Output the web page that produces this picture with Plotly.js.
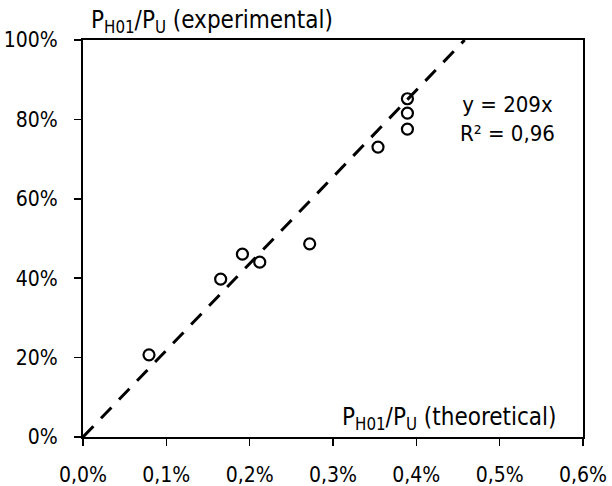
<!DOCTYPE html>
<html>
<head>
<meta charset="utf-8">
<script src="https://cdn.plot.ly/plotly-3.0.1.min.js"></script>
<style>
  html, body { margin: 0; padding: 0; background: #ffffff; }
  #chart { width: 612px; height: 486px; }
</style>
</head>
<body>
<div id="chart"></div>
<script>
// Measured points: theoretical vs experimental P_H01/P_U
const xTheoretical = [0.000792, 0.001652, 0.001913, 0.002121, 0.002720, 0.003540, 0.003893, 0.003893, 0.003893];
const yExperimental = [0.207, 0.3975, 0.4605, 0.4404, 0.4865, 0.7303, 0.7757, 0.816, 0.852];

// Trend line (through origin) as drawn
const trendX = [0, 0.00458];
const trendY = [0, 1.0];

// Tick values
const xTicks = [0, 0.001, 0.002, 0.003, 0.004, 0.005, 0.006];
const yTicks = [0, 0.2, 0.4, 0.6, 0.8, 1.0];

const equationText = 'y = 209x<br>R² = 0,96';
const yTitleText = 'P<sub>H01</sub>/P<sub>U</sub> (experimental)';
const xTitleText = 'P<sub>H01</sub>/P<sub>U</sub> (theoretical)';

const FONT = 'Liberation Sans Narrow, DejaVu Sans Condensed, Arial, sans-serif';
const FS = 21;
const TS = 24;

const traces = [
  {
    x: trendX, y: trendY, type: 'scatter', mode: 'lines',
    line: { color: '#000000', width: 3, dash: '15px,11px' },
    hoverinfo: 'skip', showlegend: false
  },
  {
    x: xTheoretical, y: yExperimental, type: 'scatter', mode: 'markers',
    marker: { symbol: 'circle-open', size: 11, color: '#000000', line: { width: 2.2, color: '#000000' } },
    showlegend: false
  }
];

const layout = {
  width: 612, height: 486,
  margin: { l: 83, r: 29, t: 40, b: 49 },
  paper_bgcolor: '#ffffff', plot_bgcolor: '#ffffff',
  separators: ', ',
  font: { family: FONT, size: FS, color: '#000000' },
  showlegend: false,
  xaxis: {
    range: [0, 0.006], tickvals: xTicks, tickformat: '.1%',
    ticks: 'outside', ticklen: 7, tickwidth: 1.5, tickcolor: '#000000',
    showline: true, linecolor: '#000000', linewidth: 2, mirror: true,
    showgrid: false, zeroline: false, ticklabelstandoff: 11,
    tickfont: { family: FONT, size: FS, color: '#000000' }
  },
  yaxis: {
    range: [0, 1], tickvals: yTicks, tickformat: '.0%',
    ticks: 'outside', ticklen: 7, tickwidth: 1.5, tickcolor: '#000000',
    showline: true, linecolor: '#000000', linewidth: 2, mirror: true,
    showgrid: false, zeroline: false, ticklabelstandoff: 12,
    tickfont: { family: FONT, size: FS, color: '#000000' }
  },
  annotations: [
    {
      text: yTitleText, xref: 'paper', yref: 'paper', x: 0, y: 1,
      xanchor: 'left', yanchor: 'bottom', xshift: 6, yshift: 1, showarrow: false,
      font: { family: FONT, size: TS, color: '#000000' }
    },
    {
      text: xTitleText, xref: 'paper', yref: 'paper', x: 1, y: 0,
      xanchor: 'right', yanchor: 'bottom', xshift: -24, yshift: 1, showarrow: false,
      font: { family: FONT, size: TS, color: '#000000' }
    },
    {
      text: equationText, xref: 'paper', yref: 'paper', x: 1, y: 1,
      xanchor: 'right', yanchor: 'top', xshift: -26, yshift: -50, showarrow: false,
      align: 'center',
      font: { family: FONT, size: 22, color: '#000000' }
    }
  ]
};

Plotly.newPlot('chart', traces, layout, { displayModeBar: false, staticPlot: true });
</script>
</body>
</html>
